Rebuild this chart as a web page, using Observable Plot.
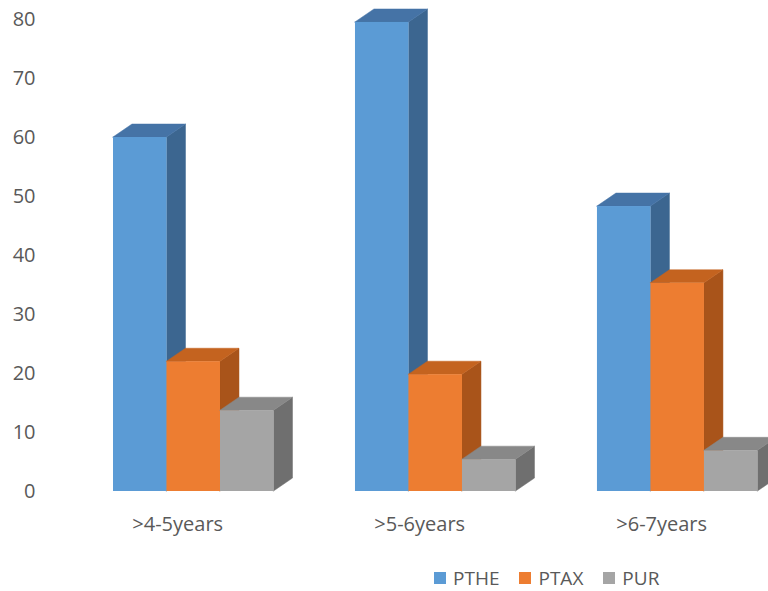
<!DOCTYPE html>
<html><head><meta charset="utf-8">
<script src="https://cdn.jsdelivr.net/npm/d3@7"></script>
<script src="https://cdn.jsdelivr.net/npm/@observablehq/plot@0.6"></script>
<style>
body{margin:0;background:#fff;font-family:"Open Sans",sans-serif;}
#wrap{position:relative;width:768px;height:591px;background:#fff;}
#legend{position:absolute;left:434px;top:568px;display:flex;align-items:center;font-size:19px;color:#595959;line-height:20px;height:20px;}
.item{display:flex;align-items:center;margin-right:20px}
.sw{width:12px;height:12px;margin-right:7px}
</style></head><body>
<div id="wrap"><div id="chart"></div><div id="legend"></div></div>
<script>
const categories = [">4-5years", ">5-6years", ">6-7years"];
const seriesNames = ["PTHE", "PTAX", "PUR"];
const PTHE = [60, 79.5, 48.3];
const PTAX = [22, 19.8, 35.3];
const PUR = [13.7, 5.4, 6.9];
const yTicks = [0, 10, 20, 30, 40, 50, 60, 70, 80];

const seriesValues = [PTHE, PTAX, PUR];
const frontColors = ["#5b9bd5", "#ed7d31", "#a5a5a5"];
const topColors = ["#4573a6", "#c4631f", "#888888"];
const sideColors = ["#3c6690", "#a9541a", "#6f6f6f"];

// layout (in x-units of one bar width)
const groupStep = 4.523;
const depthX = 0.355;
const depthY = 2.2;
const labelOffset = 1.2;

const marks = [];
seriesValues.forEach((vals, j) => {
  const bars = vals.map((v, i) => {
    const xl = i * groupStep + j;
    return {id: `${j}-${i}`, xl, xr: xl + 1, v, cat: categories[i], series: seriesNames[j]};
  });
  const side = bars.flatMap(b => [
    {id: b.id, x: b.xr, y1: 0, y2: b.v},
    {id: b.id, x: b.xr + depthX, y1: depthY, y2: b.v + depthY}
  ]);
  const top = bars.flatMap(b => [
    {id: b.id, x: b.xl, y1: b.v, y2: b.v},
    {id: b.id, x: b.xl + depthX, y1: b.v, y2: b.v + depthY},
    {id: b.id, x: b.xr, y1: b.v, y2: b.v + depthY},
    {id: b.id, x: b.xr + depthX, y1: b.v + depthY, y2: b.v + depthY}
  ]);
  marks.push(Plot.areaY(side, {x: "x", y1: "y1", y2: "y2", z: "id", fill: sideColors[j], stroke: sideColors[j], strokeWidth: 0.5}));
  marks.push(Plot.areaY(top, {x: "x", y1: "y1", y2: "y2", z: "id", fill: topColors[j], stroke: topColors[j], strokeWidth: 0.5}));
  marks.push(Plot.rect(bars, {x1: "xl", x2: "xr", y1: 0, y2: "v", fill: frontColors[j]}));
});

const labelXs = categories.map((c, i) => i * groupStep + labelOffset);

const chart = Plot.plot({
  width: 768,
  height: 550,
  marginLeft: 45,
  marginRight: 0,
  marginTop: 19,
  marginBottom: 59,
  style: {fontFamily: "'Open Sans', sans-serif", fontSize: "20px", color: "#595959", background: "#fff"},
  x: {type: "linear", domain: [-1.271, 12.243], axis: null},
  y: {domain: [0, 80], axis: null},
  marks: [
    ...marks,
    Plot.axisY({ticks: yTicks, tickSize: 0, tickPadding: 10, label: null, tickFormat: d => String(d)}),
    Plot.axisX({ticks: labelXs, tickSize: 0, tickPadding: 25, label: null, tickFormat: d => categories[labelXs.indexOf(d)]})
  ]
});
document.getElementById("chart").appendChild(chart);

const legend = document.getElementById("legend");
seriesNames.forEach((s, j) => {
  const item = document.createElement("div");
  item.className = "item";
  const sw = document.createElement("span");
  sw.className = "sw";
  sw.style.background = frontColors[j];
  const t = document.createElement("span");
  t.textContent = s;
  item.appendChild(sw);
  item.appendChild(t);
  legend.appendChild(item);
});
</script>
</body></html>
